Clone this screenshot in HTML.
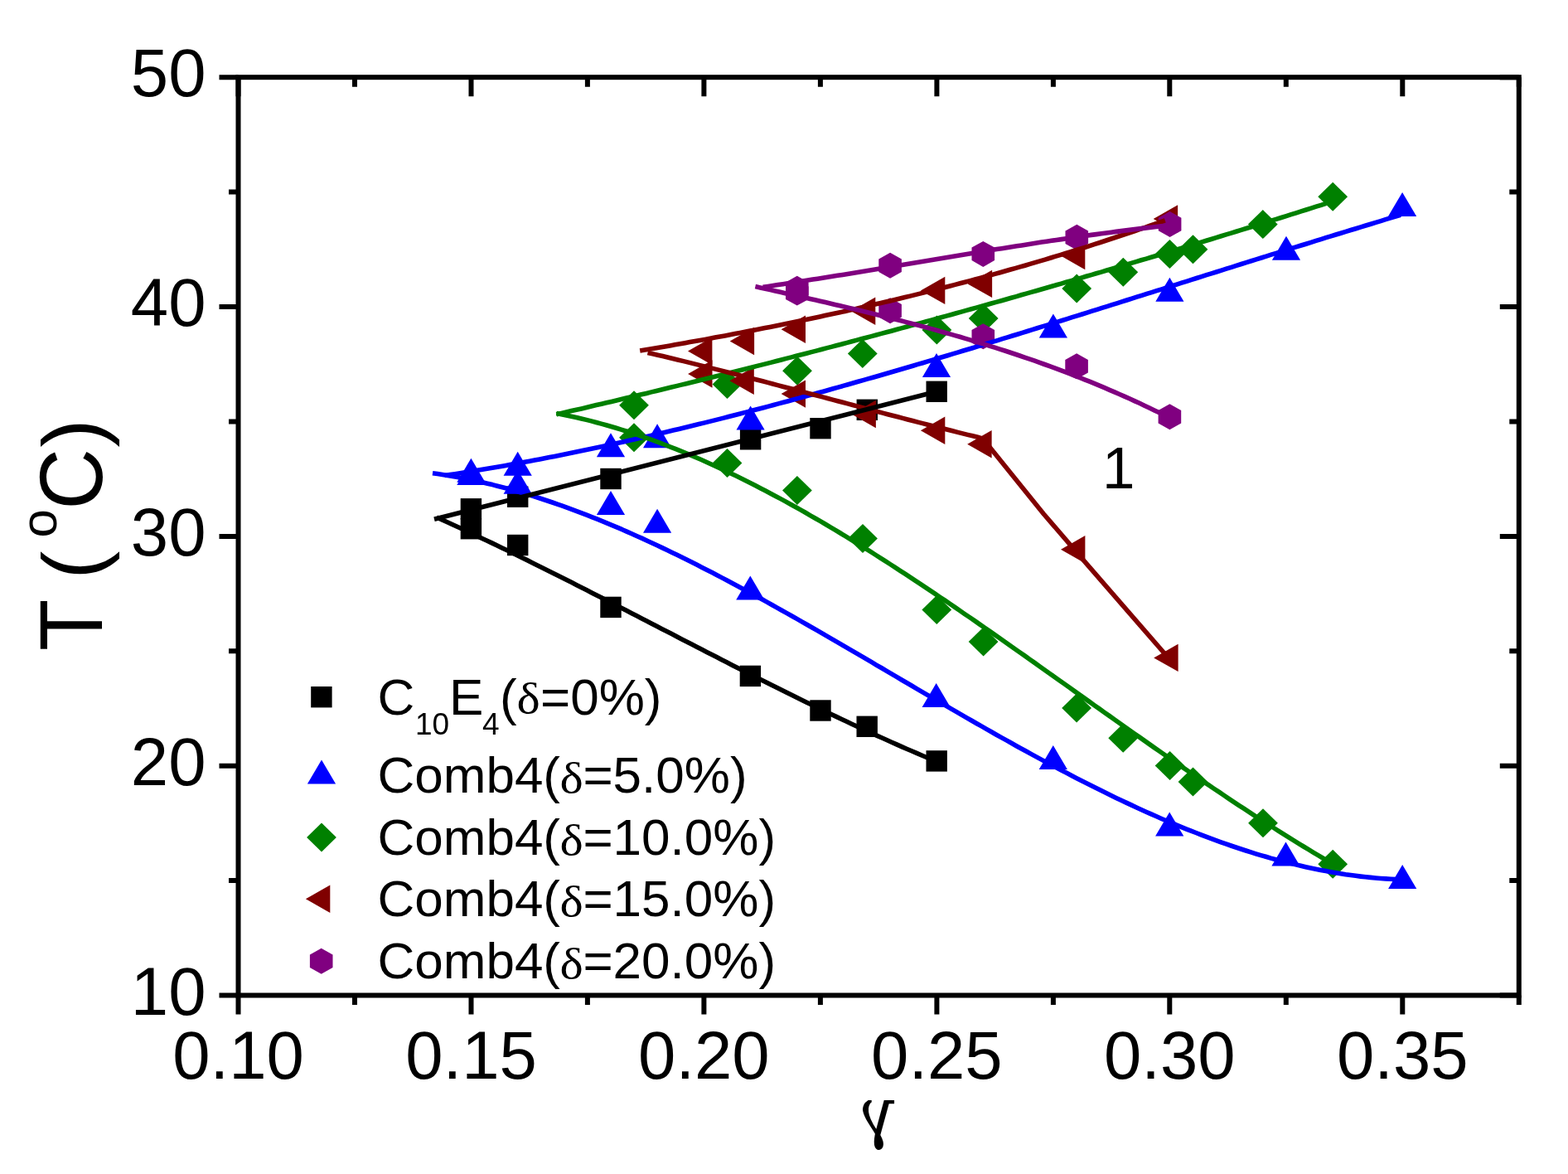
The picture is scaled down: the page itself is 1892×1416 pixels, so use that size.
<!DOCTYPE html>
<html><head><meta charset="utf-8"><title>T vs gamma</title>
<style>html,body{margin:0;padding:0;background:#fff;overflow:hidden}svg{display:block}</style>
</head><body>
<svg width="1892" height="1416" viewBox="0 0 1892 1416">
<rect width="1892" height="1416" fill="#fff"/>
<g fill="#000000"><rect x="555.7" y="601.1" width="25.4" height="25.4"/><rect x="612.0" y="586.5" width="25.4" height="25.4"/><rect x="724.3" y="564.8" width="25.4" height="25.4"/><rect x="892.9" y="517.1" width="25.4" height="25.4"/><rect x="977.3" y="504.0" width="25.4" height="25.4"/><rect x="1033.6" y="481.6" width="25.4" height="25.4"/><rect x="1117.5" y="459.6" width="25.4" height="25.4"/><rect x="555.7" y="625.0" width="25.4" height="25.4"/><rect x="612.0" y="644.8" width="25.4" height="25.4"/><rect x="724.3" y="719.7" width="25.4" height="25.4"/><rect x="892.7" y="802.7" width="25.4" height="25.4"/><rect x="977.3" y="844.3" width="25.4" height="25.4"/><rect x="1033.5" y="863.6" width="25.4" height="25.4"/><rect x="1117.5" y="905.2" width="25.4" height="25.4"/></g>
<g fill="#0000FF"><polygon points="568.4,552.7 585.5,581.7 551.3,581.7"/><polygon points="624.7,544.8 641.8,573.8 607.6,573.8"/><polygon points="737.0,522.3 754.1,551.3 719.9,551.3"/><polygon points="793.1,511.2 810.2,540.2 776.0,540.2"/><polygon points="905.6,489.5 922.7,518.5 888.5,518.5"/><polygon points="1130.0,425.9 1147.1,454.9 1112.9,454.9"/><polygon points="1270.9,378.4 1288.0,407.4 1253.8,407.4"/><polygon points="1411.4,334.8 1428.5,363.8 1394.3,363.8"/><polygon points="1552.0,284.8 1569.1,313.8 1534.9,313.8"/><polygon points="1692.1,231.9 1709.2,260.9 1675.0,260.9"/><polygon points="568.4,555.9 585.5,584.9 551.3,584.9"/><polygon points="624.7,566.7 641.8,595.7 607.6,595.7"/><polygon points="737.0,591.9 754.1,620.9 719.9,620.9"/><polygon points="793.1,613.8 810.2,642.8 776.0,642.8"/><polygon points="905.3,694.5 922.4,723.5 888.2,723.5"/><polygon points="1129.7,824.1 1146.8,853.1 1112.6,853.1"/><polygon points="1270.8,899.0 1287.9,928.0 1253.7,928.0"/><polygon points="1411.2,979.6 1428.3,1008.6 1394.1,1008.6"/><polygon points="1551.5,1015.5 1568.6,1044.5 1534.4,1044.5"/><polygon points="1692.2,1043.0 1709.3,1072.0 1675.1,1072.0"/></g>
<g fill="#008000"><polygon points="765.0,471.3 782.9,488.8 765.0,506.3 747.1,488.8"/><polygon points="877.5,445.9 895.4,463.4 877.5,480.9 859.6,463.4"/><polygon points="962.0,429.7 979.9,447.2 962.0,464.7 944.1,447.2"/><polygon points="1040.8,408.9 1058.7,426.4 1040.8,443.9 1022.9,426.4"/><polygon points="1130.4,380.4 1148.3,397.9 1130.4,415.4 1112.5,397.9"/><polygon points="1186.7,366.5 1204.6,384.0 1186.7,401.5 1168.8,384.0"/><polygon points="1299.2,330.4 1317.1,347.9 1299.2,365.4 1281.3,347.9"/><polygon points="1355.3,310.8 1373.2,328.3 1355.3,345.8 1337.4,328.3"/><polygon points="1411.4,288.9 1429.3,306.4 1411.4,323.9 1393.5,306.4"/><polygon points="1439.5,283.2 1457.4,300.7 1439.5,318.2 1421.6,300.7"/><polygon points="1523.8,253.1 1541.7,270.6 1523.8,288.1 1505.9,270.6"/><polygon points="1608.2,219.8 1626.1,237.3 1608.2,254.8 1590.3,237.3"/><polygon points="765.0,510.3 782.9,527.8 765.0,545.3 747.1,527.8"/><polygon points="877.5,540.9 895.4,558.4 877.5,575.9 859.6,558.4"/><polygon points="961.9,573.9 979.8,591.4 961.9,608.9 944.0,591.4"/><polygon points="1041.0,632.1 1058.9,649.6 1041.0,667.1 1023.1,649.6"/><polygon points="1130.3,718.1 1148.2,735.6 1130.3,753.1 1112.4,735.6"/><polygon points="1186.6,756.5 1204.5,774.0 1186.6,791.5 1168.7,774.0"/><polygon points="1299.1,836.5 1317.0,854.0 1299.1,871.5 1281.2,854.0"/><polygon points="1355.2,872.7 1373.1,890.2 1355.2,907.7 1337.3,890.2"/><polygon points="1411.6,906.0 1429.5,923.5 1411.6,941.0 1393.7,923.5"/><polygon points="1439.5,925.6 1457.4,943.1 1439.5,960.6 1421.6,943.1"/><polygon points="1524.0,975.3 1541.9,992.8 1524.0,1010.3 1506.1,992.8"/><polygon points="1608.2,1024.8 1626.1,1042.3 1608.2,1059.8 1590.3,1042.3"/></g>
<g fill="#800000"><polygon points="830.0,423.5 859.4,406.8 859.4,440.2"/><polygon points="880.7,411.5 910.1,394.8 910.1,428.2"/><polygon points="942.6,397.3 972.0,380.6 972.0,414.0"/><polygon points="1026.9,375.3 1056.3,358.6 1056.3,392.0"/><polygon points="1110.9,350.4 1140.3,333.7 1140.3,367.1"/><polygon points="1167.7,342.4 1197.1,325.7 1197.1,359.1"/><polygon points="1279.9,308.6 1309.3,291.9 1309.3,325.3"/><polygon points="1391.7,264.0 1421.1,247.3 1421.1,280.7"/><polygon points="830.1,451.0 859.5,434.3 859.5,467.7"/><polygon points="880.4,459.2 909.8,442.5 909.8,475.9"/><polygon points="942.6,475.1 972.0,458.4 972.0,491.8"/><polygon points="1027.5,499.5 1056.9,482.8 1056.9,516.2"/><polygon points="1110.9,519.3 1140.3,502.6 1140.3,536.0"/><polygon points="1167.2,535.8 1196.6,519.1 1196.6,552.5"/><polygon points="1280.0,662.8 1309.4,646.1 1309.4,679.5"/><polygon points="1392.2,793.4 1421.6,776.7 1421.6,810.1"/></g>
<g fill="#800080"><polygon points="961.8,332.8 975.6,340.6 975.6,356.1 961.8,363.8 948.0,356.1 948.0,340.6"/><polygon points="1074.1,304.7 1087.9,312.4 1087.9,327.9 1074.1,335.7 1060.3,327.9 1060.3,312.4"/><polygon points="1186.3,290.9 1200.1,298.6 1200.1,314.1 1186.3,321.9 1172.5,314.1 1172.5,298.6"/><polygon points="1299.3,270.7 1313.1,278.4 1313.1,293.9 1299.3,301.7 1285.5,293.9 1285.5,278.4"/><polygon points="1411.6,255.0 1425.4,262.8 1425.4,278.2 1411.6,286.0 1397.8,278.2 1397.8,262.8"/><polygon points="961.8,337.6 975.6,345.4 975.6,360.9 961.8,368.6 948.0,360.9 948.0,345.4"/><polygon points="1074.1,359.3 1087.9,367.1 1087.9,382.6 1074.1,390.3 1060.3,382.6 1060.3,367.1"/><polygon points="1186.3,390.3 1200.1,398.1 1200.1,413.6 1186.3,421.3 1172.5,413.6 1172.5,398.1"/><polygon points="1299.1,426.3 1312.9,434.1 1312.9,449.6 1299.1,457.3 1285.3,449.6 1285.3,434.1"/><polygon points="1411.4,487.3 1425.2,495.1 1425.2,510.6 1411.4,518.3 1397.6,510.6 1397.6,495.1"/></g>
<path d="M537.0,573.6 L543.0,572.6 L549.0,571.7 L555.0,570.8 L561.0,569.8 L567.0,568.8 L573.0,567.8 L579.0,566.8 L585.0,565.8 L591.0,564.8 L597.1,563.8 L603.1,562.7 L609.1,561.7 L615.1,560.6 L621.1,559.5 L627.1,558.4 L633.1,557.3 L639.1,556.2 L645.1,555.0 L651.1,553.9 L657.1,552.7 L663.1,551.5 L669.1,550.4 L675.1,549.2 L681.1,548.0 L687.1,546.8 L693.1,545.5 L699.1,544.3 L705.1,543.0 L711.2,541.8 L717.2,540.5 L723.2,539.2 L729.2,538.0 L735.2,536.7 L741.2,535.3 L747.2,534.0 L753.2,532.7 L759.2,531.3 L765.2,530.0 L771.2,528.6 L777.2,527.3 L783.2,525.9 L789.2,524.5 L795.2,523.1 L801.2,521.7 L807.2,520.3 L813.2,518.8 L819.2,517.4 L825.2,516.0 L831.3,514.5 L837.3,513.0 L843.3,511.6 L849.3,510.1 L855.3,508.6 L861.3,507.1 L867.3,505.6 L873.3,504.1 L879.3,502.5 L885.3,501.0 L891.3,499.5 L897.3,497.9 L903.3,496.4 L909.3,494.8 L915.3,493.2 L921.3,491.7 L927.3,490.1 L933.3,488.5 L939.3,486.9 L945.4,485.3 L951.4,483.7 L957.4,482.0 L963.4,480.4 L969.4,478.8 L975.4,477.1 L981.4,475.5 L987.4,473.8 L993.4,472.2 L999.4,470.5 L1005.4,468.8 L1011.4,467.1 L1017.4,465.4 L1023.4,463.7 L1029.4,462.0 L1035.4,460.3 L1041.4,458.6 L1047.4,456.9 L1053.4,455.2 L1059.5,453.5 L1065.5,451.7 L1071.5,450.0 L1077.5,448.2 L1083.5,446.5 L1089.5,444.7 L1095.5,443.0 L1101.5,441.2 L1107.5,439.4 L1113.5,437.7 L1119.5,435.9 L1125.5,434.1 L1131.5,432.3 L1137.5,430.5 L1143.5,428.7 L1149.5,426.9 L1155.5,425.1 L1161.5,423.3 L1167.5,421.5 L1173.6,419.7 L1179.6,417.9 L1185.6,416.0 L1191.6,414.2 L1197.6,412.4 L1203.6,410.6 L1209.6,408.7 L1215.6,406.9 L1221.6,405.0 L1227.6,403.2 L1233.6,401.3 L1239.6,399.5 L1245.6,397.6 L1251.6,395.8 L1257.6,393.9 L1263.6,392.1 L1269.6,390.2 L1275.6,388.3 L1281.6,386.5 L1287.7,384.6 L1293.7,382.7 L1299.7,380.8 L1305.7,379.0 L1311.7,377.1 L1317.7,375.2 L1323.7,373.3 L1329.7,371.4 L1335.7,369.6 L1341.7,367.7 L1347.7,365.8 L1353.7,363.9 L1359.7,362.0 L1365.7,360.1 L1371.7,358.2 L1377.7,356.3 L1383.7,354.4 L1389.7,352.6 L1395.7,350.7 L1401.8,348.8 L1407.8,346.9 L1413.8,345.0 L1419.8,343.1 L1425.8,341.2 L1431.8,339.3 L1437.8,337.4 L1443.8,335.5 L1449.8,333.6 L1455.8,331.7 L1461.8,329.8 L1467.8,328.0 L1473.8,326.1 L1479.8,324.2 L1485.8,322.3 L1491.8,320.4 L1497.8,318.5 L1503.8,316.6 L1509.8,314.8 L1515.8,312.9 L1521.9,311.0 L1527.9,309.1 L1533.9,307.2 L1539.9,305.4 L1545.9,303.5 L1551.9,301.6 L1557.9,299.7 L1563.9,297.9 L1569.9,296.0 L1575.9,294.2 L1581.9,292.3 L1587.9,290.4 L1593.9,288.6 L1599.9,286.7 L1605.9,284.9 L1611.9,283.0 L1617.9,281.2 L1623.9,279.3 L1629.9,277.5 L1636.0,275.7 L1642.0,273.8 L1648.0,272.0 L1654.0,270.2 L1660.0,268.4 L1666.0,266.6 L1672.0,264.7 L1678.0,262.9 L1684.0,261.1 L1690.0,259.3" fill="none" stroke="#0000FF" stroke-width="5.6" stroke-linejoin="round"/>
<path d="M522.0,570.7 L528.0,571.5 L534.0,572.4 L540.1,573.4 L546.1,574.4 L552.1,575.5 L558.1,576.7 L564.1,577.9 L570.2,579.1 L576.2,580.4 L582.2,581.8 L588.2,583.2 L594.2,584.6 L600.3,586.2 L606.3,587.7 L612.3,589.3 L618.3,591.0 L624.4,592.7 L630.4,594.5 L636.4,596.3 L642.4,598.1 L648.4,600.0 L654.5,602.0 L660.5,604.0 L666.5,606.0 L672.5,608.1 L678.5,610.2 L684.6,612.4 L690.6,614.6 L696.6,616.8 L702.6,619.1 L708.6,621.4 L714.7,623.8 L720.7,626.2 L726.7,628.6 L732.7,631.1 L738.7,633.6 L744.8,636.2 L750.8,638.7 L756.8,641.4 L762.8,644.0 L768.8,646.7 L774.9,649.4 L780.9,652.2 L786.9,655.0 L792.9,657.8 L798.9,660.6 L805.0,663.5 L811.0,666.4 L817.0,669.3 L823.0,672.3 L829.1,675.3 L835.1,678.3 L841.1,681.3 L847.1,684.4 L853.1,687.5 L859.2,690.6 L865.2,693.7 L871.2,696.9 L877.2,700.0 L883.2,703.2 L889.3,706.4 L895.3,709.7 L901.3,712.9 L907.3,716.2 L913.3,719.5 L919.4,722.8 L925.4,726.1 L931.4,729.5 L937.4,732.9 L943.4,736.2 L949.5,739.6 L955.5,743.0 L961.5,746.4 L967.5,749.9 L973.5,753.3 L979.6,756.7 L985.6,760.2 L991.6,763.7 L997.6,767.1 L1003.6,770.6 L1009.7,774.1 L1015.7,777.6 L1021.7,781.1 L1027.7,784.6 L1033.8,788.2 L1039.8,791.7 L1045.8,795.2 L1051.8,798.7 L1057.8,802.3 L1063.9,805.8 L1069.9,809.3 L1075.9,812.9 L1081.9,816.4 L1087.9,820.0 L1094.0,823.5 L1100.0,827.0 L1106.0,830.6 L1112.0,834.1 L1118.0,837.6 L1124.1,841.1 L1130.1,844.6 L1136.1,848.1 L1142.1,851.6 L1148.1,855.1 L1154.2,858.6 L1160.2,862.1 L1166.2,865.6 L1172.2,869.0 L1178.2,872.5 L1184.3,875.9 L1190.3,879.4 L1196.3,882.8 L1202.3,886.2 L1208.4,889.6 L1214.4,892.9 L1220.4,896.3 L1226.4,899.7 L1232.4,903.0 L1238.5,906.3 L1244.5,909.6 L1250.5,912.9 L1256.5,916.1 L1262.5,919.4 L1268.6,922.6 L1274.6,925.8 L1280.6,929.0 L1286.6,932.1 L1292.6,935.3 L1298.7,938.4 L1304.7,941.5 L1310.7,944.5 L1316.7,947.6 L1322.7,950.6 L1328.8,953.6 L1334.8,956.5 L1340.8,959.5 L1346.8,962.4 L1352.8,965.3 L1358.9,968.1 L1364.9,970.9 L1370.9,973.7 L1376.9,976.5 L1382.9,979.2 L1389.0,981.9 L1395.0,984.5 L1401.0,987.2 L1407.0,989.8 L1413.1,992.3 L1419.1,994.8 L1425.1,997.3 L1431.1,999.8 L1437.1,1002.2 L1443.2,1004.5 L1449.2,1006.9 L1455.2,1009.2 L1461.2,1011.4 L1467.2,1013.6 L1473.3,1015.8 L1479.3,1017.9 L1485.3,1020.0 L1491.3,1022.0 L1497.3,1024.0 L1503.4,1026.0 L1509.4,1027.9 L1515.4,1029.8 L1521.4,1031.6 L1527.4,1033.3 L1533.5,1035.1 L1539.5,1036.7 L1545.5,1038.3 L1551.5,1039.9 L1557.5,1041.4 L1563.6,1042.9 L1569.6,1044.3 L1575.6,1045.7 L1581.6,1047.0 L1587.6,1048.3 L1593.7,1049.5 L1599.7,1050.6 L1605.7,1051.7 L1611.7,1052.7 L1617.8,1053.7 L1623.8,1054.7 L1629.8,1055.5 L1635.8,1056.3 L1641.8,1057.1 L1647.9,1057.8 L1653.9,1058.4 L1659.9,1059.0 L1665.9,1059.5 L1671.9,1059.9 L1678.0,1060.3 L1684.0,1060.6 L1690.0,1060.8" fill="none" stroke="#0000FF" stroke-width="5.6" stroke-linejoin="round"/>
<path d="M671.4,499.8 L677.4,498.4 L683.5,497.0 L689.5,495.6 L695.5,494.2 L701.6,492.9 L707.6,491.5 L713.6,490.0 L719.6,488.6 L725.7,487.2 L731.7,485.8 L737.7,484.4 L743.8,483.0 L749.8,481.5 L755.8,480.1 L761.9,478.7 L767.9,477.2 L773.9,475.8 L780.0,474.4 L786.0,472.9 L792.0,471.5 L798.1,470.0 L804.1,468.5 L810.1,467.1 L816.1,465.6 L822.2,464.1 L828.2,462.7 L834.2,461.2 L840.3,459.7 L846.3,458.2 L852.3,456.7 L858.4,455.2 L864.4,453.7 L870.4,452.2 L876.5,450.7 L882.5,449.2 L888.5,447.7 L894.6,446.2 L900.6,444.7 L906.6,443.2 L912.6,441.6 L918.7,440.1 L924.7,438.6 L930.7,437.1 L936.8,435.5 L942.8,434.0 L948.8,432.4 L954.9,430.9 L960.9,429.3 L966.9,427.8 L973.0,426.2 L979.0,424.6 L985.0,423.1 L991.1,421.5 L997.1,419.9 L1003.1,418.4 L1009.1,416.8 L1015.2,415.2 L1021.2,413.6 L1027.2,412.0 L1033.3,410.4 L1039.3,408.8 L1045.3,407.2 L1051.4,405.6 L1057.4,404.0 L1063.4,402.4 L1069.5,400.8 L1075.5,399.2 L1081.5,397.5 L1087.6,395.9 L1093.6,394.3 L1099.6,392.6 L1105.6,391.0 L1111.7,389.4 L1117.7,387.7 L1123.7,386.1 L1129.8,384.4 L1135.8,382.8 L1141.8,381.1 L1147.9,379.5 L1153.9,377.8 L1159.9,376.1 L1166.0,374.4 L1172.0,372.8 L1178.0,371.1 L1184.0,369.4 L1190.1,367.7 L1196.1,366.0 L1202.1,364.4 L1208.2,362.7 L1214.2,361.0 L1220.2,359.3 L1226.3,357.6 L1232.3,355.8 L1238.3,354.1 L1244.4,352.4 L1250.4,350.7 L1256.4,349.0 L1262.5,347.3 L1268.5,345.5 L1274.5,343.8 L1280.5,342.1 L1286.6,340.3 L1292.6,338.6 L1298.6,336.8 L1304.7,335.1 L1310.7,333.3 L1316.7,331.6 L1322.8,329.8 L1328.8,328.1 L1334.8,326.3 L1340.9,324.5 L1346.9,322.8 L1352.9,321.0 L1359.0,319.2 L1365.0,317.4 L1371.0,315.6 L1377.0,313.8 L1383.1,312.1 L1389.1,310.3 L1395.1,308.5 L1401.2,306.7 L1407.2,304.9 L1413.2,303.0 L1419.3,301.2 L1425.3,299.4 L1431.3,297.6 L1437.4,295.8 L1443.4,294.0 L1449.4,292.1 L1455.5,290.3 L1461.5,288.5 L1467.5,286.6 L1473.5,284.8 L1479.6,282.9 L1485.6,281.1 L1491.6,279.3 L1497.7,277.4 L1503.7,275.5 L1509.7,273.7 L1515.8,271.8 L1521.8,270.0 L1527.8,268.1 L1533.9,266.2 L1539.9,264.3 L1545.9,262.5 L1552.0,260.6 L1558.0,258.7 L1564.0,256.8 L1570.0,254.9 L1576.1,253.0 L1582.1,251.1 L1588.1,249.2 L1594.2,247.3 L1600.2,245.4" fill="none" stroke="#008000" stroke-width="5.6" stroke-linejoin="round"/>
<path d="M671.4,498.5 L677.4,499.7 L683.4,500.9 L689.4,502.2 L695.4,503.5 L701.5,504.9 L707.5,506.4 L713.5,507.9 L719.5,509.5 L725.5,511.1 L731.5,512.8 L737.5,514.5 L743.5,516.3 L749.5,518.1 L755.5,520.0 L761.6,522.0 L767.6,523.9 L773.6,526.0 L779.6,528.1 L785.6,530.2 L791.6,532.4 L797.6,534.7 L803.6,537.0 L809.6,539.3 L815.6,541.7 L821.7,544.1 L827.7,546.6 L833.7,549.1 L839.7,551.7 L845.7,554.3 L851.7,557.0 L857.7,559.7 L863.7,562.4 L869.7,565.2 L875.8,568.0 L881.8,570.9 L887.8,573.8 L893.8,576.7 L899.8,579.7 L905.8,582.7 L911.8,585.8 L917.8,588.9 L923.8,592.0 L929.8,595.2 L935.9,598.4 L941.9,601.6 L947.9,604.9 L953.9,608.2 L959.9,611.5 L965.9,614.9 L971.9,618.3 L977.9,621.8 L983.9,625.2 L989.9,628.7 L996.0,632.2 L1002.0,635.8 L1008.0,639.4 L1014.0,643.0 L1020.0,646.6 L1026.0,650.3 L1032.0,654.0 L1038.0,657.7 L1044.0,661.4 L1050.1,665.2 L1056.1,669.0 L1062.1,672.8 L1068.1,676.7 L1074.1,680.5 L1080.1,684.4 L1086.1,688.3 L1092.1,692.2 L1098.1,696.2 L1104.1,700.1 L1110.2,704.1 L1116.2,708.1 L1122.2,712.1 L1128.2,716.1 L1134.2,720.2 L1140.2,724.2 L1146.2,728.3 L1152.2,732.4 L1158.2,736.5 L1164.2,740.7 L1170.3,744.8 L1176.3,748.9 L1182.3,753.1 L1188.3,757.3 L1194.3,761.4 L1200.3,765.6 L1206.3,769.8 L1212.3,774.0 L1218.3,778.3 L1224.3,782.5 L1230.4,786.7 L1236.4,790.9 L1242.4,795.2 L1248.4,799.4 L1254.4,803.7 L1260.4,808.0 L1266.4,812.2 L1272.4,816.5 L1278.4,820.8 L1284.5,825.0 L1290.5,829.3 L1296.5,833.6 L1302.5,837.8 L1308.5,842.1 L1314.5,846.4 L1320.5,850.7 L1326.5,854.9 L1332.5,859.2 L1338.5,863.4 L1344.6,867.7 L1350.6,872.0 L1356.6,876.2 L1362.6,880.5 L1368.6,884.7 L1374.6,888.9 L1380.6,893.1 L1386.6,897.4 L1392.6,901.6 L1398.6,905.8 L1404.7,910.0 L1410.7,914.1 L1416.7,918.3 L1422.7,922.5 L1428.7,926.6 L1434.7,930.7 L1440.7,934.9 L1446.7,939.0 L1452.7,943.1 L1458.8,947.1 L1464.8,951.2 L1470.8,955.2 L1476.8,959.3 L1482.8,963.3 L1488.8,967.3 L1494.8,971.3 L1500.8,975.2 L1506.8,979.1 L1512.8,983.1 L1518.9,987.0 L1524.9,990.8 L1530.9,994.7 L1536.9,998.5 L1542.9,1002.3 L1548.9,1006.1 L1554.9,1009.9 L1560.9,1013.6 L1566.9,1017.3 L1572.9,1021.0 L1579.0,1024.7 L1585.0,1028.3 L1591.0,1031.9 L1597.0,1035.5 L1603.0,1039.1" fill="none" stroke="#008000" stroke-width="5.6" stroke-linejoin="round"/>
<path d="M772.2,423.1 L778.2,422.1 L784.3,421.1 L790.3,420.0 L796.3,419.0 L802.4,417.9 L808.4,416.9 L814.4,415.8 L820.5,414.8 L826.5,413.7 L832.5,412.6 L838.6,411.5 L844.6,410.5 L850.6,409.4 L856.7,408.3 L862.7,407.1 L868.7,406.0 L874.8,404.9 L880.8,403.8 L886.9,402.6 L892.9,401.5 L898.9,400.3 L905.0,399.1 L911.0,398.0 L917.0,396.8 L923.1,395.6 L929.1,394.4 L935.1,393.2 L941.2,392.0 L947.2,390.7 L953.2,389.5 L959.3,388.3 L965.3,387.0 L971.3,385.8 L977.4,384.5 L983.4,383.2 L989.4,381.9 L995.5,380.6 L1001.5,379.3 L1007.5,378.0 L1013.6,376.7 L1019.6,375.4 L1025.6,374.0 L1031.7,372.7 L1037.7,371.3 L1043.7,369.9 L1049.8,368.5 L1055.8,367.1 L1061.8,365.7 L1067.9,364.3 L1073.9,362.9 L1079.9,361.5 L1086.0,360.0 L1092.0,358.6 L1098.1,357.1 L1104.1,355.6 L1110.1,354.1 L1116.2,352.6 L1122.2,351.1 L1128.2,349.6 L1134.3,348.1 L1140.3,346.5 L1146.3,345.0 L1152.4,343.4 L1158.4,341.8 L1164.4,340.2 L1170.5,338.6 L1176.5,337.0 L1182.5,335.4 L1188.6,333.7 L1194.6,332.1 L1200.6,330.4 L1206.7,328.7 L1212.7,327.0 L1218.7,325.3 L1224.8,323.6 L1230.8,321.9 L1236.8,320.2 L1242.9,318.4 L1248.9,316.6 L1254.9,314.9 L1261.0,313.1 L1267.0,311.3 L1273.0,309.4 L1279.1,307.6 L1285.1,305.8 L1291.1,303.9 L1297.2,302.0 L1303.2,300.2 L1309.3,298.3 L1315.3,296.3 L1321.3,294.4 L1327.4,292.5 L1333.4,290.5 L1339.4,288.5 L1345.5,286.5 L1351.5,284.5 L1357.5,282.5 L1363.6,280.5 L1369.6,278.5 L1375.6,276.4 L1381.7,274.3 L1387.7,272.2 L1393.7,270.1 L1399.8,268.0 L1405.8,265.9" fill="none" stroke="#800000" stroke-width="5.6" stroke-linejoin="round"/>
<path d="M781.5,425.4 L787.5,426.8 L793.6,428.2 L799.6,429.6 L805.6,431.0 L811.7,432.5 L817.7,433.9 L823.7,435.4 L829.8,436.9 L835.8,438.4 L841.8,439.9 L847.9,441.4 L853.9,442.9 L859.9,444.4 L866.0,445.9 L872.0,447.4 L878.0,449.0 L884.1,450.5 L890.1,452.0 L896.1,453.6 L902.2,455.2 L908.2,456.7 L914.2,458.3 L920.3,459.8 L926.3,461.4 L932.3,463.0 L938.4,464.6 L944.4,466.2 L950.4,467.8 L956.5,469.3 L962.5,470.9 L968.5,472.5 L974.6,474.1 L980.6,475.7 L986.6,477.3 L992.7,478.9 L998.7,480.5 L1004.7,482.1 L1010.8,483.7 L1016.8,485.3 L1022.8,486.9 L1028.9,488.5 L1034.9,490.1 L1040.9,491.7 L1047.0,493.3 L1053.0,494.9 L1059.0,496.5 L1065.1,498.1 L1071.1,499.7 L1077.1,501.2 L1083.2,502.8 L1089.2,504.4 L1095.2,506.0 L1101.3,507.5 L1107.3,509.1 L1113.3,510.6 L1119.4,512.2 L1125.4,513.7 L1131.4,515.3 L1137.5,516.8 L1143.5,518.3 L1149.5,519.8 L1155.6,521.4 L1161.6,522.9 L1167.6,524.4 L1173.7,525.8 L1179.7,527.3 L1185.9,529.1 L1259.4,620.0 L1308.6,677.1 L1403.7,786.5 L1413.2,795.0" fill="none" stroke="#800000" stroke-width="5.6" stroke-linejoin="round"/>
<path d="M920.6,346.3 L926.6,345.4 L932.6,344.5 L938.6,343.6 L944.6,342.7 L950.6,341.8 L956.6,340.9 L962.6,339.9 L968.6,339.0 L974.6,338.1 L980.6,337.1 L986.6,336.2 L992.6,335.2 L998.6,334.3 L1004.7,333.3 L1010.7,332.3 L1016.7,331.4 L1022.7,330.4 L1028.7,329.4 L1034.7,328.4 L1040.7,327.4 L1046.7,326.5 L1052.7,325.5 L1058.7,324.5 L1064.7,323.5 L1070.7,322.5 L1076.7,321.5 L1082.7,320.5 L1088.7,319.5 L1094.7,318.5 L1100.7,317.5 L1106.7,316.5 L1112.7,315.5 L1118.7,314.5 L1124.7,313.5 L1130.7,312.5 L1136.7,311.5 L1142.7,310.5 L1148.7,309.5 L1154.7,308.5 L1160.7,307.5 L1166.8,306.5 L1172.8,305.5 L1178.8,304.5 L1184.8,303.5 L1190.8,302.6 L1196.8,301.6 L1202.8,300.6 L1208.8,299.7 L1214.8,298.7 L1220.8,297.7 L1226.8,296.8 L1232.8,295.9 L1238.8,294.9 L1244.8,294.0 L1250.8,293.1 L1256.8,292.1 L1262.8,291.2 L1268.8,290.3 L1274.8,289.4 L1280.8,288.6 L1286.8,287.7 L1292.8,286.8 L1298.8,285.9 L1304.8,285.1 L1310.8,284.2 L1316.8,283.4 L1322.8,282.6 L1328.9,281.8 L1334.9,281.0 L1340.9,280.2 L1346.9,279.4 L1352.9,278.6 L1358.9,277.9 L1364.9,277.1 L1370.9,276.4 L1376.9,275.6 L1382.9,274.9 L1388.9,274.2 L1394.9,273.5 L1400.9,272.9 L1406.9,272.2" fill="none" stroke="#800080" stroke-width="5.6" stroke-linejoin="round"/>
<path d="M911.4,345.6 L917.4,346.9 L923.4,348.3 L929.5,349.6 L935.5,351.0 L941.5,352.3 L947.5,353.7 L953.5,355.0 L959.6,356.4 L965.6,357.7 L971.6,359.1 L977.6,360.5 L983.6,361.8 L989.7,363.2 L995.7,364.6 L1001.7,366.0 L1007.7,367.4 L1013.7,368.8 L1019.7,370.2 L1025.8,371.7 L1031.8,373.1 L1037.8,374.5 L1043.8,376.0 L1049.8,377.5 L1055.9,379.0 L1061.9,380.4 L1067.9,382.0 L1073.9,383.5 L1079.9,385.0 L1086.0,386.5 L1092.0,388.1 L1098.0,389.7 L1104.0,391.3 L1110.0,392.9 L1116.1,394.5 L1122.1,396.1 L1128.1,397.8 L1134.1,399.5 L1140.1,401.2 L1146.2,402.9 L1152.2,404.6 L1158.2,406.3 L1164.2,408.1 L1170.2,409.9 L1176.2,411.7 L1182.3,413.5 L1188.3,415.4 L1194.3,417.3 L1200.3,419.2 L1206.3,421.1 L1212.4,423.0 L1218.4,425.0 L1224.4,427.0 L1230.4,429.0 L1236.4,431.1 L1242.5,433.1 L1248.5,435.2 L1254.5,437.4 L1260.5,439.5 L1266.5,441.7 L1272.6,443.9 L1278.6,446.2 L1284.6,448.4 L1290.6,450.7 L1296.6,453.1 L1302.7,455.4 L1308.7,457.8 L1314.7,460.2 L1320.7,462.7 L1326.7,465.2 L1332.7,467.7 L1338.8,470.3 L1344.8,472.9 L1350.8,475.5 L1356.8,478.1 L1362.8,480.8 L1368.9,483.6 L1374.9,486.3 L1380.9,489.2 L1386.9,492.0 L1392.9,494.9 L1399.0,497.8 L1405.0,500.8 L1411.0,503.8" fill="none" stroke="#800080" stroke-width="5.6" stroke-linejoin="round"/>
<path d="M524.0,626.2 L1130.2,472.3" fill="none" stroke="#000000" stroke-width="5.6" stroke-linejoin="round"/>
<path d="M527.0,624.0 L533.0,626.8 L539.1,629.5 L545.1,632.3 L551.1,635.0 L557.2,637.8 L563.2,640.6 L569.2,643.5 L575.3,646.3 L581.3,649.2 L587.3,652.0 L593.4,654.9 L599.4,657.8 L605.4,660.7 L611.4,663.6 L617.5,666.6 L623.5,669.5 L629.5,672.5 L635.6,675.4 L641.6,678.4 L647.6,681.4 L653.7,684.4 L659.7,687.4 L665.7,690.4 L671.8,693.5 L677.8,696.5 L683.8,699.6 L689.9,702.6 L695.9,705.7 L701.9,708.7 L708.0,711.8 L714.0,714.9 L720.0,718.0 L726.1,721.1 L732.1,724.2 L738.1,727.3 L744.2,730.4 L750.2,733.5 L756.2,736.6 L762.2,739.7 L768.3,742.8 L774.3,745.9 L780.3,749.0 L786.4,752.2 L792.4,755.3 L798.4,758.4 L804.5,761.5 L810.5,764.6 L816.5,767.8 L822.6,770.9 L828.6,774.0 L834.6,777.1 L840.7,780.2 L846.7,783.3 L852.7,786.4 L858.8,789.5 L864.8,792.6 L870.8,795.7 L876.9,798.8 L882.9,801.9 L888.9,805.0 L895.0,808.0 L901.0,811.1 L907.0,814.1 L913.0,817.2 L919.1,820.2 L925.1,823.3 L931.1,826.3 L937.2,829.3 L943.2,832.3 L949.2,835.3 L955.3,838.3 L961.3,841.3 L967.3,844.2 L973.4,847.2 L979.4,850.1 L985.4,853.1 L991.5,856.0 L997.5,858.9 L1003.5,861.8 L1009.6,864.6 L1015.6,867.5 L1021.6,870.3 L1027.7,873.2 L1033.7,876.0 L1039.7,878.8 L1045.8,881.6 L1051.8,884.3 L1057.8,887.1 L1063.8,889.8 L1069.9,892.5 L1075.9,895.2 L1081.9,897.9 L1088.0,900.6 L1094.0,903.2 L1100.0,905.8 L1106.1,908.4 L1112.1,911.0 L1118.1,913.5 L1124.2,916.1 L1130.2,918.6" fill="none" stroke="#000000" stroke-width="5.6" stroke-linejoin="round"/>
<rect x="287.5" y="93.2" width="1545.3" height="1107.3" fill="none" stroke="#000" stroke-width="6.0" stroke-linecap="square"/>
<path d="M287.5,1200.5V1223.5 M287.5,93.2V116.2 M428.0,1200.5V1212.0 M428.0,93.2V104.7 M568.5,1200.5V1223.5 M568.5,93.2V116.2 M708.9,1200.5V1212.0 M708.9,93.2V104.7 M849.4,1200.5V1223.5 M849.4,93.2V116.2 M989.9,1200.5V1212.0 M989.9,93.2V104.7 M1130.4,1200.5V1223.5 M1130.4,93.2V116.2 M1270.9,1200.5V1212.0 M1270.9,93.2V104.7 M1411.3,1200.5V1223.5 M1411.3,93.2V116.2 M1551.8,1200.5V1212.0 M1551.8,93.2V104.7 M1692.3,1200.5V1223.5 M1692.3,93.2V116.2 M1832.8,1200.5V1212.0 M1832.8,93.2V104.7 M287.5,1200.5H264.5 M1832.8,1200.5H1809.8 M287.5,1062.1H276.0 M1832.8,1062.1H1821.3 M287.5,923.7H264.5 M1832.8,923.7H1809.8 M287.5,785.3H276.0 M1832.8,785.3H1821.3 M287.5,646.9H264.5 M1832.8,646.9H1809.8 M287.5,508.4H276.0 M1832.8,508.4H1821.3 M287.5,370.0H264.5 M1832.8,370.0H1809.8 M287.5,231.6H276.0 M1832.8,231.6H1821.3 M287.5,93.2H264.5 M1832.8,93.2H1809.8" stroke="#000" stroke-width="6.0" fill="none"/>
<g font-family="'Liberation Sans', sans-serif" font-size="81.5" fill="#000"><text x="287.5" y="1300.5" text-anchor="middle">0.10</text><text x="568.5" y="1300.5" text-anchor="middle">0.15</text><text x="849.4" y="1300.5" text-anchor="middle">0.20</text><text x="1130.4" y="1300.5" text-anchor="middle">0.25</text><text x="1411.3" y="1300.5" text-anchor="middle">0.30</text><text x="1692.3" y="1300.5" text-anchor="middle">0.35</text><text x="248.5" y="1223.7" text-anchor="end">10</text><text x="248.5" y="946.9" text-anchor="end">20</text><text x="248.5" y="670.1" text-anchor="end">30</text><text x="248.5" y="393.2" text-anchor="end">40</text><text x="248.5" y="116.4" text-anchor="end">50</text></g>
<text x="1330" y="589" font-family="'Liberation Sans', sans-serif" font-size="71" fill="#000">1</text>
<g transform="translate(1059.6,1370.2) scale(-0.93,1.035)"><text x="0" y="0" text-anchor="middle" font-family="'DejaVu Serif', serif" font-size="80" fill="#000">γ</text></g>
<g transform="rotate(-90)" font-family="'Liberation Sans', sans-serif" fill="#000"><text x="-785" y="123" font-size="102" transform="translate(0,123) scale(1,1.06) translate(0,-123)">T</text><text x="-698.4" y="123" font-size="102">(</text><text x="-648.5" y="68" font-size="62">o</text><text x="-614.8" y="123" font-size="102" transform="translate(0,123) scale(1,1.06) translate(0,-123)">C</text><text x="-539.5" y="123" font-size="102">)</text></g>
<g fill="#000000"><rect x="375.2" y="828.0" width="25.4" height="25.4"/></g>
<g fill="#0000FF"><polygon points="388.0,916.5 405.1,945.5 370.9,945.5"/></g>
<g fill="#008000"><polygon points="388.0,992.5 405.9,1010.0 388.0,1027.5 370.1,1010.0"/></g>
<g fill="#800000"><polygon points="368.9,1084.3 398.3,1067.6 398.3,1101.0"/></g>
<g fill="#800080"><polygon points="387.7,1143.7 401.5,1151.5 401.5,1167.0 387.7,1174.7 373.9,1167.0 373.9,1151.5"/></g>
<g font-family="'Liberation Sans', sans-serif" font-size="62" fill="#000"><text x="455.5" y="861.5">C</text><text x="501" y="885.5" font-size="37">10</text><text x="542" y="861.5">E</text><text x="582" y="885.5" font-size="37">4</text><text x="603" y="861.5">(</text><text transform="translate(623.5,860) scale(1.07,0.94)" font-family="'Liberation Serif', serif" font-size="56">δ</text><text x="652" y="861.5">=0%)</text><text x="455.5" y="956.2">Comb4(</text><text transform="translate(675.5,956.2) scale(1.07,0.94)" font-family="'Liberation Serif', serif" font-size="56">δ</text><text x="703.4" y="956.2">=5.0%)</text><text x="455.5" y="1031.3">Comb4(</text><text transform="translate(675.5,1031.3) scale(1.07,0.94)" font-family="'Liberation Serif', serif" font-size="56">δ</text><text x="703.4" y="1031.3">=10.0%)</text><text x="455.5" y="1105.3">Comb4(</text><text transform="translate(675.5,1105.3) scale(1.07,0.94)" font-family="'Liberation Serif', serif" font-size="56">δ</text><text x="703.4" y="1105.3">=15.0%)</text><text x="455.5" y="1180.0">Comb4(</text><text transform="translate(675.5,1180.0) scale(1.07,0.94)" font-family="'Liberation Serif', serif" font-size="56">δ</text><text x="703.4" y="1180.0">=20.0%)</text></g>
</svg>
</body></html>
